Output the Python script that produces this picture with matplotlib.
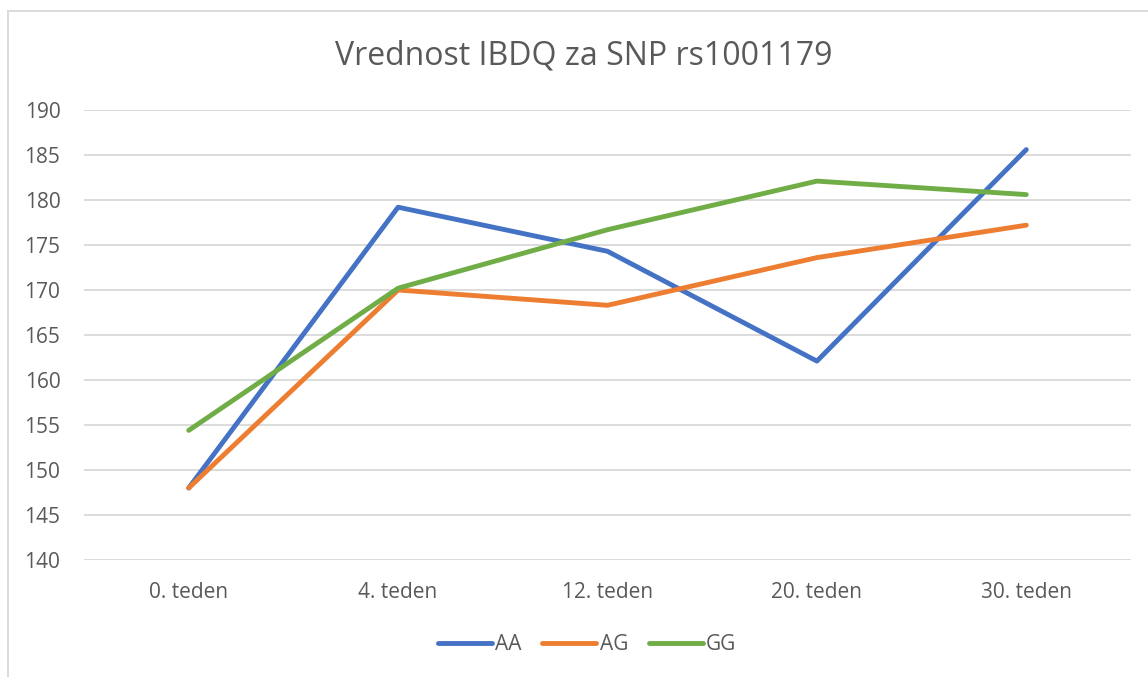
import matplotlib
matplotlib.use('Agg')
import matplotlib.pyplot as plt
from matplotlib.lines import Line2D

weeks = ['0. teden', '4. teden', '12. teden', '20. teden', '30. teden']
aa = [148.0, 179.2, 174.3, 162.1, 185.6]
ag = [148.0, 170.0, 168.3, 173.6, 177.2]
gg = [154.4, 170.2, 176.7, 182.1, 180.6]

series = [('AA', aa, '#4472C4'), ('AG', ag, '#ED7D31'), ('GG', gg, '#70AD47')]
text_col = '#595959'
plt.rcParams['font.family'] = ['Open Sans', 'DejaVu Sans']

W, H = 1148, 677
fig = plt.figure(figsize=(W / 100, H / 100), dpi=100)
ax = fig.add_axes([84 / W, 1 - 560 / H, (1131 - 84) / W, (560 - 110) / H])

x = list(range(len(weeks)))
for name, vals, col in series:
    ax.plot(x, vals, color=col, lw=3.5, solid_capstyle='round',
            solid_joinstyle='round', label=name, zorder=3)

ax.set_xlim(-0.5, len(weeks) - 0.5)
ax.set_ylim(140, 190)
ax.set_yticks(range(140, 191, 5))
ax.set_xticks(x)
ax.set_xticklabels(weeks)
ax.grid(axis='y', color='#D9D9D9', lw=1.3)
ax.set_axisbelow(True)
for s in ax.spines.values():
    s.set_visible(False)
ax.tick_params(length=0, labelsize=15, colors=text_col)
ax.tick_params(axis='y', pad=17)
ax.tick_params(axis='x', pad=16)

fig.text(584 / W, 1 - 56 / H, 'Vrednost IBDQ za SNP rs1001179', ha='center',
         va='center', fontsize=23, color=text_col)

handles = [Line2D([0], [0], color=c, lw=3.5, solid_capstyle='round') for _, _, c in series]
fig.legend(handles, [n for n, _, _ in series], loc='center', ncol=3,
           bbox_to_anchor=(587 / W, 1 - 645 / H), frameon=False, fontsize=15,
           labelcolor=text_col, handlelength=2.6, handletextpad=0.15, columnspacing=1.0)

# chart border (cropped: only left and top edges visible)
fig.add_artist(Line2D([8 / W, 8 / W], [0, 1 - 11 / H], color='#D9D9D9', lw=1.3))
fig.add_artist(Line2D([8 / W, 1], [1 - 11 / H, 1 - 11 / H], color='#D9D9D9', lw=1.3))

fig.savefig('out.png', dpi=100, facecolor='white')
